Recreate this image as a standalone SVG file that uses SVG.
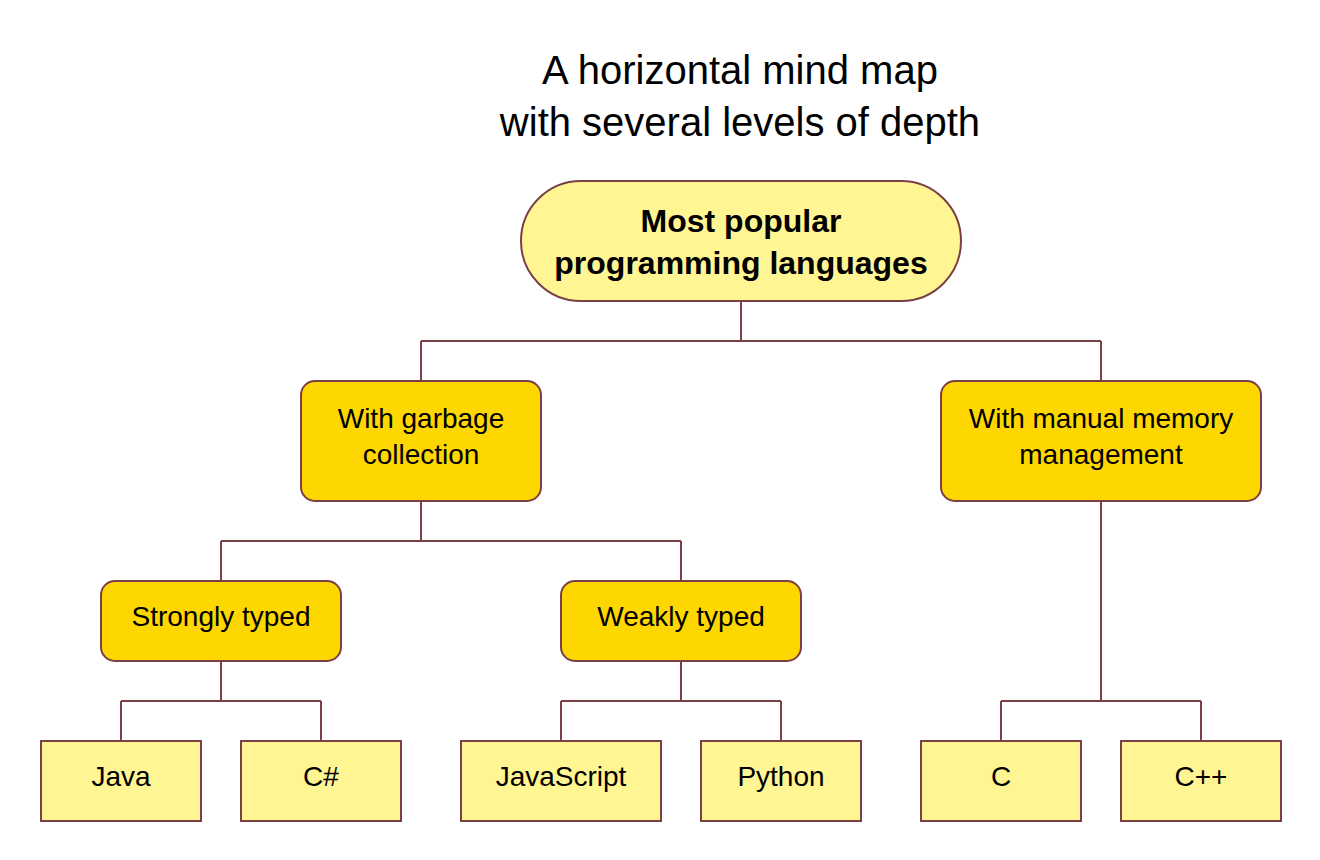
<svg xmlns="http://www.w3.org/2000/svg" width="1320" height="860" viewBox="0 0 1320 860">
<style>
text{font-family:"Liberation Sans",Arial,sans-serif;fill:#000;text-anchor:middle}
.title{font-size:40px}
.root{fill:#fff592;stroke:#7a4044;stroke-width:2}
.mid{fill:#ffd700;stroke:#7a4044;stroke-width:2}
.leaf{fill:#fff592;stroke:#7a4044;stroke-width:2}
.rt{font-size:32px;font-weight:bold}
.mt{font-size:28px}
.lt{font-size:28px}
.conn path{fill:none;stroke:#7a4044;stroke-width:2}
</style>
<rect width="1320" height="860" fill="#fff"/>
<g id="title">
<text class="title" x="740" y="84">A horizontal mind map</text>
<text class="title" x="740" y="136">with several levels of depth</text>
</g>
<g class="conn" id="connectors">
<path d="M741,301V341M421,341H1101M421,341V381M1101,341V381"/>
<path d="M421,501V541M221,541H681M221,541V581M681,541V581"/>
<path d="M221,661V701M121,701H321M121,701V741M321,701V741"/>
<path d="M681,661V701M561,701H781M561,701V741M781,701V741"/>
<path d="M1101,501V701M1001,701H1201M1001,701V741M1201,701V741"/>
</g>
<g id="root">
<rect class="root" x="521" y="181" width="440" height="120" rx="60"/>
<text class="rt" x="741" y="232">Most popular</text>
<text class="rt" x="741" y="274">programming languages</text>
</g>
<g id="gc">
<rect class="mid" x="301" y="381" width="240" height="120" rx="14"/>
<text class="mt" x="421" y="428">With garbage</text>
<text class="mt" x="421" y="464">collection</text>
</g>
<g id="manual">
<rect class="mid" x="941" y="381" width="320" height="120" rx="14"/>
<text class="mt" x="1101" y="428">With manual memory</text>
<text class="mt" x="1101" y="464">management</text>
</g>
<g id="strong">
<rect class="mid" x="101" y="581" width="240" height="80" rx="14"/>
<text class="mt" x="221" y="626">Strongly typed</text>
</g>
<g id="weak">
<rect class="mid" x="561" y="581" width="240" height="80" rx="14"/>
<text class="mt" x="681" y="626">Weakly typed</text>
</g>
<g id="java">
<rect class="leaf" x="41" y="741" width="160" height="80"/>
<text class="lt" x="121" y="786">Java</text>
</g>
<g id="csharp">
<rect class="leaf" x="241" y="741" width="160" height="80"/>
<text class="lt" x="321" y="786">C#</text>
</g>
<g id="javascript">
<rect class="leaf" x="461" y="741" width="200" height="80"/>
<text class="lt" x="561" y="786">JavaScript</text>
</g>
<g id="python">
<rect class="leaf" x="701" y="741" width="160" height="80"/>
<text class="lt" x="781" y="786">Python</text>
</g>
<g id="c">
<rect class="leaf" x="921" y="741" width="160" height="80"/>
<text class="lt" x="1001" y="786">C</text>
</g>
<g id="cpp">
<rect class="leaf" x="1121" y="741" width="160" height="80"/>
<text class="lt" x="1201" y="786">C++</text>
</g>
</svg>
